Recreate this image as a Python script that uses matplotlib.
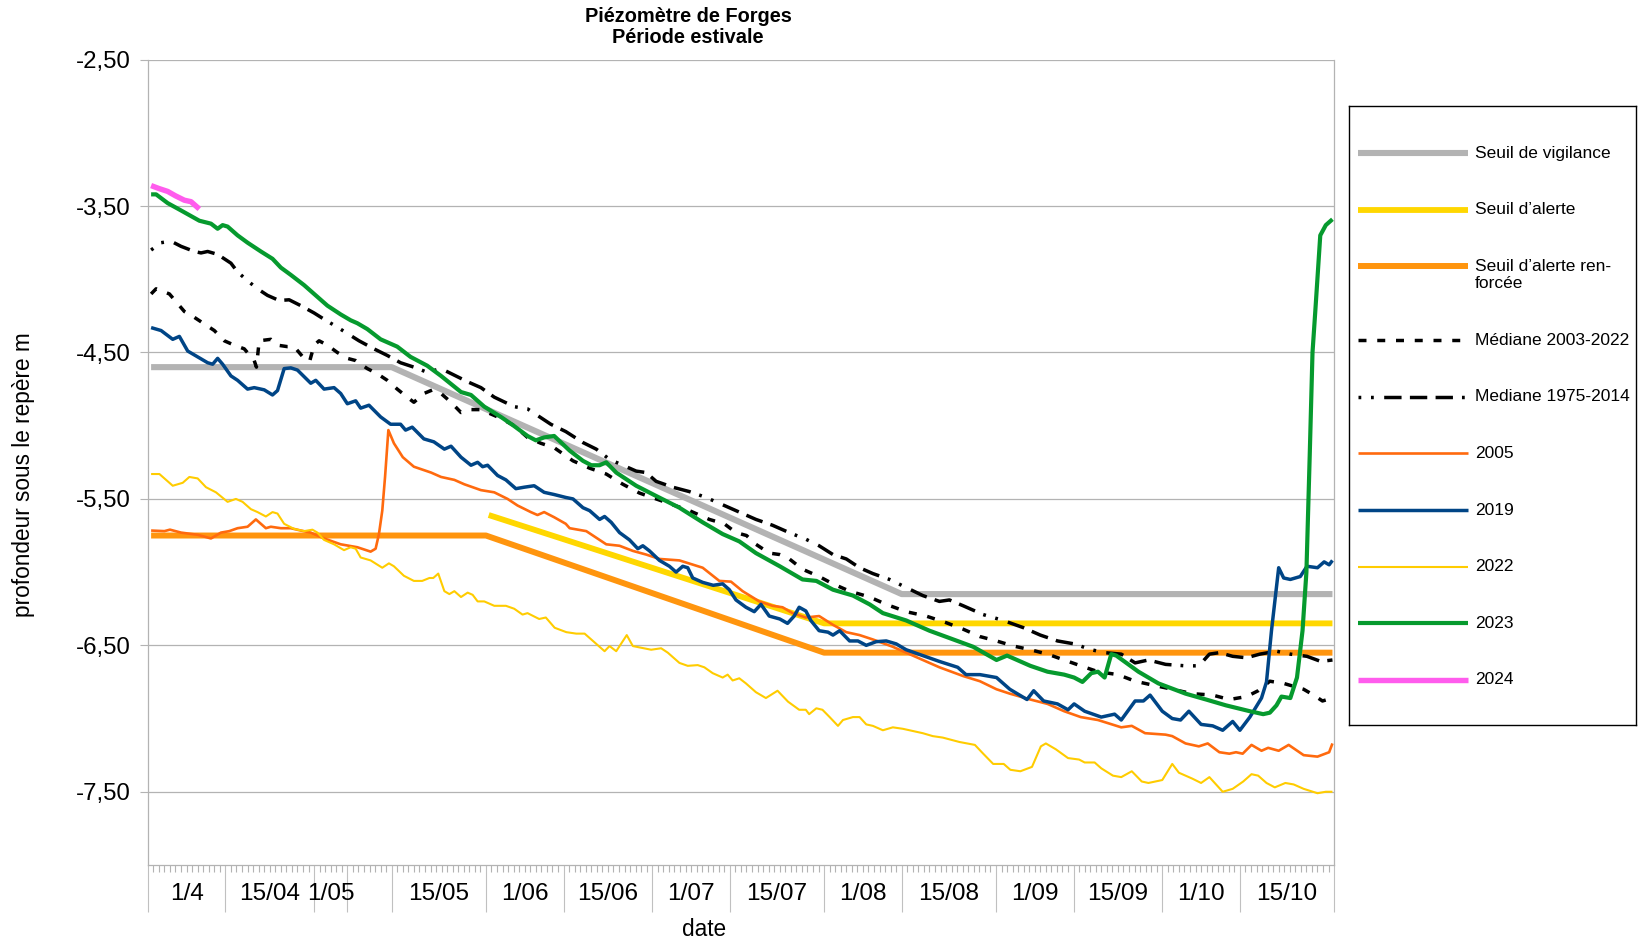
import matplotlib.pyplot as plt
from matplotlib.ticker import FuncFormatter
from matplotlib.transforms import blended_transform_factory

plt.rcParams['font.family'] = ['Liberation Sans', 'DejaVu Sans']

# x = days counted from 1 April, y = depth below the reference mark (m)
vigilance_days = [0.6, 44, 136, 213.7]
vigilance_vals = [-4.60, -4.60, -6.15, -6.15]
alerte_days = [61.5, 122, 213.7]
alerte_vals = [-5.61, -6.35, -6.35]
renforcee_days = [0.6, 61, 122, 213.7]
renforcee_vals = [-5.75, -5.75, -6.55, -6.55]

med0322_days = [0.6, 1.5, 3.9, 5.7, 6.6, 8.4, 10.8, 12, 13.8, 15.6, 17.4, 19.2, 19.6, 20.1, 22.2, 23.4,
                25.2, 26.4, 28.2, 29.2, 30, 30.9, 32.4, 34.2, 36, 37.5, 39.6, 41.4, 43.2, 45, 46.8, 48,
                49.8, 51.4, 52.9, 54.7, 56.5, 58.3, 60, 61.9, 63.7, 66.1, 68.5, 70.9, 73.3, 76.7, 79.7,
                82.7, 85.7, 88.7, 91.7, 94.7, 97.7, 101.3, 104, 106.1, 108, 109.7, 112.1, 114, 115.4,
                118.1, 121.1, 123.6, 126.6, 130.2, 133.2, 136.8, 140.4, 144, 147.1, 150.1, 153.1, 156.2,
                159.2, 162.3, 165.3, 168.3, 171.4, 175, 178.1, 181.1, 184.8, 188.4, 192.1, 195.1, 198.2,
                200.3, 202.4, 204.9, 206.7, 208.5, 210.3, 211.9, 213.7]
med0322_vals = [-4.10, -4.065, -4.10, -4.18, -4.22, -4.26, -4.32, -4.35, -4.42, -4.45, -4.475, -4.555,
                -4.60, -4.42, -4.41, -4.45, -4.46, -4.46, -4.54, -4.56, -4.45, -4.42, -4.45, -4.50, -4.54,
                -4.555, -4.61, -4.645, -4.69, -4.75, -4.805, -4.84, -4.78, -4.755, -4.78, -4.84, -4.91,
                -4.89, -4.89, -4.92, -4.95, -5.00, -5.08, -5.12, -5.15, -5.24, -5.29, -5.33, -5.40, -5.46,
                -5.50, -5.54, -5.58, -5.64, -5.67, -5.73, -5.75, -5.81, -5.87, -5.88, -5.90, -5.98, -6.03,
                -6.08, -6.13, -6.17, -6.22, -6.27, -6.30, -6.345, -6.39, -6.44, -6.47, -6.505, -6.53,
                -6.56, -6.60, -6.64, -6.68, -6.70, -6.745, -6.77, -6.80, -6.83, -6.84, -6.87, -6.85,
                -6.81, -6.745, -6.76, -6.78, -6.80, -6.84, -6.88, -6.86]

med7514_days = [0.6, 2.4, 4.2, 6, 8.4, 9.6, 10.8, 12.6, 15, 16.2, 18, 19.8, 21.6, 23.7, 25.5, 27.6, 30,
                32.1, 33.9, 36, 38.1, 40.8, 43.2, 45.6, 48, 50.4, 52.9, 55.3, 57.7, 60.1, 62.5, 66.1,
                68.5, 70.3, 72.7, 75.4, 78.5, 80.9, 83.3, 85.7, 88.1, 89.9, 91.7, 94.7, 97.7, 100.7,
                103.7, 106.7, 109.7, 112.7, 115.7, 118.7, 121.1, 123.6, 126, 128.4, 130.8, 133.8, 136.8,
                139.8, 142.8, 144.6, 147.1, 150.7, 154.3, 158, 161, 164.1, 167.1, 170.2, 172.6, 175.6,
                178.1, 180.5, 183.6, 187.2, 189.6, 191.5, 193.3, 195.7, 198.2, 200.6, 203.6, 206.1,
                209.1, 211.6, 213.7]
med7514_vals = [-3.80, -3.75, -3.74, -3.775, -3.81, -3.82, -3.81, -3.83, -3.89, -3.95, -4.01, -4.065,
                -4.11, -4.145, -4.14, -4.18, -4.23, -4.28, -4.32, -4.37, -4.42, -4.475, -4.52, -4.57,
                -4.60, -4.635, -4.61, -4.655, -4.70, -4.74, -4.805, -4.87, -4.885, -4.93, -4.99, -5.04,
                -5.115, -5.16, -5.23, -5.27, -5.31, -5.32, -5.38, -5.42, -5.45, -5.49, -5.54, -5.59,
                -5.64, -5.68, -5.73, -5.775, -5.82, -5.88, -5.91, -5.97, -6.01, -6.05, -6.105, -6.16,
                -6.20, -6.19, -6.23, -6.29, -6.33, -6.38, -6.43, -6.47, -6.49, -6.53, -6.55, -6.56,
                -6.62, -6.60, -6.63, -6.64, -6.64, -6.56, -6.55, -6.575, -6.585, -6.56, -6.54, -6.56,
                -6.575, -6.61, -6.60]

y2005_days = [0.6, 3, 4, 6, 9, 11.4, 13.2, 14.7, 16.2, 18, 19.5, 21.3, 22.2, 24, 25.8, 27.6, 29.4, 31.8,
              34.8, 37.8, 40.2, 41.1, 41.7, 42.3, 42.8, 43.4, 44.4, 46, 48, 51.1, 52.9, 55.3, 57.1, 60.1,
              62.5, 64.9, 66.7, 69.1, 70.3, 71.5, 73.3, 75.4, 76.1, 79.1, 82.7, 85.1, 87.5, 89.9, 92.3,
              95.9, 100.1, 103.1, 105.2, 107.3, 110.3, 112.7, 114.5, 116.3, 118.7, 121.1, 123.6, 126,
              128.4, 130.8, 134.4, 138.6, 142.8, 147.1, 150.1, 153.1, 155.5, 159.2, 162.3, 165.3, 168.3,
              171.4, 175.6, 177.5, 179.9, 183.6, 184.8, 187.2, 189.6, 191.2, 193.3, 195.1, 196.3, 197.5,
              199.1, 200.9, 202.1, 204, 205.8, 208.5, 211, 213.1, 213.7]
y2005_vals = [-5.716, -5.72, -5.71, -5.73, -5.745, -5.77, -5.73, -5.72, -5.70, -5.69, -5.64, -5.70, -5.69,
              -5.70, -5.70, -5.716, -5.73, -5.77, -5.81, -5.83, -5.86, -5.84, -5.74, -5.58, -5.35, -5.03,
              -5.12, -5.215, -5.28, -5.32, -5.35, -5.37, -5.40, -5.44, -5.455, -5.50, -5.545, -5.59,
              -5.61, -5.59, -5.625, -5.67, -5.70, -5.72, -5.81, -5.82, -5.855, -5.88, -5.91, -5.92,
              -5.97, -6.06, -6.065, -6.13, -6.20, -6.23, -6.24, -6.28, -6.31, -6.30, -6.36, -6.41,
              -6.43, -6.46, -6.51, -6.58, -6.65, -6.71, -6.745, -6.80, -6.83, -6.87, -6.90, -6.95,
              -6.99, -7.01, -7.06, -7.05, -7.10, -7.11, -7.12, -7.17, -7.19, -7.17, -7.23, -7.24,
              -7.23, -7.24, -7.18, -7.22, -7.20, -7.22, -7.18, -7.25, -7.26, -7.23, -7.17]

y2019_days = [0.6, 2.4, 4.5, 5.7, 7.2, 9, 10.8, 11.7, 12.6, 13.5, 15, 16.2, 18, 19.2, 21, 22.5, 23.4, 24.6,
              25.8, 27, 29.4, 30.3, 31.8, 33.6, 34.8, 36, 37.5, 38.4, 39.9, 42, 43.8, 45.6, 46.5, 47.7,
              49.8, 51.6, 53.5, 54.7, 56.5, 58.3, 59.5, 60.4, 61.3, 63.1, 64.6, 66.4, 67.9, 69.7, 71.5,
              73.3, 75.4, 76.7, 78.5, 79.7, 81.5, 82.4, 83.6, 85.1, 86.9, 88.4, 89.3, 90.5, 92.3, 94.1,
              95.3, 96.5, 97.4, 98.3, 100.1, 102, 103.7, 104.9, 106.1, 107.9, 109.4, 110.6, 112.1, 114,
              115.4, 116.6, 117.5, 118.7, 119.6, 121.1, 122.7, 123.6, 124.8, 126.6, 128.1, 129.6, 131.4,
              133.2, 135, 136.8, 139.8, 142.8, 146.1, 147.6, 150.1, 153.1, 155.5, 158.6, 159.8, 161.6,
              164.1, 166, 167.1, 169, 172, 174.4, 175.6, 178.1, 179.6, 180.8, 183, 184.8, 186.3, 187.8,
              190, 192.1, 193.9, 195.7, 197, 198.8, 200.9, 201.8, 202.7, 204, 204.9, 206.1, 207.9, 209.1,
              211, 212.2, 213.1, 213.7]
y2019_vals = [-4.33, -4.35, -4.41, -4.39, -4.49, -4.53, -4.57, -4.58, -4.54, -4.58, -4.66, -4.69, -4.75,
              -4.74, -4.755, -4.79, -4.76, -4.61, -4.605, -4.62, -4.71, -4.69, -4.75, -4.74, -4.78, -4.85,
              -4.83, -4.88, -4.86, -4.94, -4.99, -4.99, -5.03, -5.01, -5.09, -5.11, -5.16, -5.14, -5.215,
              -5.27, -5.25, -5.28, -5.27, -5.34, -5.37, -5.43, -5.42, -5.41, -5.455, -5.47, -5.49, -5.50,
              -5.56, -5.58, -5.64, -5.62, -5.66, -5.73, -5.78, -5.84, -5.82, -5.855, -5.92, -5.96, -6.00,
              -5.96, -5.97, -6.04, -6.07, -6.09, -6.08, -6.12, -6.19, -6.24, -6.27, -6.22, -6.30, -6.32,
              -6.35, -6.30, -6.24, -6.265, -6.33, -6.40, -6.41, -6.43, -6.40, -6.47, -6.47, -6.50, -6.475,
              -6.47, -6.49, -6.53, -6.57, -6.61, -6.65, -6.70, -6.70, -6.72, -6.80, -6.87, -6.81, -6.88,
              -6.90, -6.94, -6.90, -6.95, -6.99, -6.97, -7.01, -6.88, -6.88, -6.84, -6.95, -7.00, -7.01,
              -6.95, -7.04, -7.05, -7.08, -7.02, -7.08, -6.99, -6.86, -6.75, -6.40, -5.97, -6.04, -6.05,
              -6.03, -5.96, -5.97, -5.93, -5.95, -5.92]

y2022_days = [0.6, 2.1, 4.5, 6.3, 7.5, 9, 10.5, 12.3, 14.4, 15.9, 17.1, 18.6, 19.8, 21.3, 22.5, 23.4, 24.6,
              26.4, 28.2, 29.7, 30.6, 31.8, 33.6, 35.4, 36.6, 37.5, 38.4, 40.2, 42.3, 43.5, 44.4, 46.2,
              48, 49.5, 50.8, 51.5, 52.4, 53.5, 54.4, 55.3, 56.5, 57.7, 58.6, 59.5, 60.7, 62.5, 64.6,
              66.1, 67.6, 68.5, 70.6, 71.8, 73.4, 75.5, 77.3, 78.8, 80.3, 82.4, 83.3, 84.5, 86.4, 87.5,
              90.8, 92.6, 93.8, 95.9, 97.4, 99.2, 100.4, 101.9, 103.7, 104.6, 105.5, 106.7, 107.9, 109.7,
              111.5, 113.6, 115.5, 117.5, 118.7, 119.3, 120.6, 121.7, 123, 124.5, 125.4, 127.2, 128.4,
              129.6, 130.8, 132.6, 134.4, 136.2, 138, 139.8, 141.6, 143.4, 146.4, 149.2, 150.7, 152.5,
              154.4, 155.6, 157.4, 159.5, 161.1, 162, 163.8, 166, 168, 169, 170.8, 172, 174.1, 175.6,
              177.5, 179.3, 180.5, 183, 184.8, 186, 188.4, 190, 191.5, 193.9, 195.7, 197.6, 199.1, 200.3,
              201.8, 203.3, 205.2, 206.7, 208.5, 211, 212.5, 213.7]
y2022_vals = [-5.33, -5.33, -5.41, -5.39, -5.35, -5.36, -5.42, -5.455, -5.52, -5.50, -5.52, -5.57, -5.59,
              -5.62, -5.59, -5.60, -5.67, -5.705, -5.72, -5.71, -5.73, -5.78, -5.81, -5.85, -5.83, -5.84,
              -5.90, -5.92, -5.97, -5.94, -5.96, -6.025, -6.06, -6.06, -6.04, -6.04, -6.01, -6.13, -6.15,
              -6.13, -6.17, -6.14, -6.155, -6.20, -6.20, -6.23, -6.23, -6.25, -6.29, -6.28, -6.32, -6.31,
              -6.38, -6.41, -6.42, -6.42, -6.47, -6.54, -6.505, -6.54, -6.43, -6.505, -6.53, -6.52,
              -6.55, -6.62, -6.64, -6.635, -6.65, -6.69, -6.72, -6.70, -6.74, -6.725, -6.76, -6.82,
              -6.86, -6.81, -6.885, -6.94, -6.94, -6.97, -6.93, -6.94, -6.99, -7.05, -7.01, -6.99,
              -6.99, -7.04, -7.05, -7.08, -7.06, -7.07, -7.085, -7.10, -7.12, -7.13, -7.16, -7.18,
              -7.24, -7.31, -7.31, -7.35, -7.36, -7.33, -7.19, -7.17, -7.21, -7.27, -7.28, -7.30,
              -7.30, -7.34, -7.39, -7.40, -7.36, -7.43, -7.44, -7.42, -7.31, -7.37, -7.41, -7.44,
              -7.40, -7.50, -7.48, -7.43, -7.38, -7.39, -7.44, -7.47, -7.44, -7.45, -7.48, -7.51,
              -7.50, -7.50]

y2023_days = [0.6, 1.5, 3.6, 6, 9.3, 11.4, 12.6, 13.5, 14.4, 16.2, 18, 20.4, 22.5, 24, 25.8, 28.2, 30,
              32.4, 34.8, 36.6, 37.8, 39.6, 42, 45, 47.4, 50.4, 52.9, 56.5, 58.3, 60.7, 63.7, 66, 68.5,
              70, 71.5, 73.3, 76.1, 78.5, 80, 81.5, 82.7, 84.5, 88.1, 91.7, 95.9, 100.1, 103.7, 106.7,
              109.7, 114, 118.1, 120.6, 123.6, 127.2, 130.2, 132.6, 136.8, 141, 144.6, 148.9, 153.1, 155,
              159.2, 162.3, 165.3, 167.1, 168.6, 170.2, 171.4, 172.6, 173.8, 174.7, 178.7, 182.3, 187.2,
              190.9, 194.5, 198.8, 201.2, 202.4, 203.6, 204.5, 206.1, 207.3, 208.3, 209, 209.6, 210.1,
              210.6, 211.5, 212.5, 213.7]
y2023_vals = [-3.42, -3.42, -3.48, -3.53, -3.60, -3.62, -3.655, -3.63, -3.64, -3.70, -3.75, -3.81, -3.86,
              -3.92, -3.97, -4.04, -4.10, -4.18, -4.24, -4.28, -4.30, -4.34, -4.41, -4.46, -4.53, -4.59,
              -4.66, -4.77, -4.79, -4.87, -4.94, -5.00, -5.07, -5.10, -5.08, -5.07, -5.17, -5.24, -5.27,
              -5.27, -5.25, -5.32, -5.41, -5.48, -5.56, -5.66, -5.74, -5.79, -5.87, -5.96, -6.05, -6.06,
              -6.12, -6.16, -6.22, -6.28, -6.33, -6.40, -6.45, -6.51, -6.60, -6.57, -6.64, -6.68, -6.70,
              -6.72, -6.75, -6.69, -6.68, -6.72, -6.56, -6.57, -6.68, -6.76, -6.83, -6.87, -6.91, -6.95,
              -6.97, -6.96, -6.91, -6.85, -6.86, -6.72, -6.40, -6.00, -5.20, -4.50, -4.22, -3.70, -3.63,
              -3.59]

y2024_days = [0.6, 2, 3.6, 5, 6.6, 7.8, 9.3]
y2024_vals = [-3.36, -3.38, -3.40, -3.43, -3.46, -3.47, -3.52]

# x axis: separators (days from 1 April) and the label shown in each interval
sep_days = [0, 14, 30, 36, 44, 61, 75, 91, 105, 122, 136, 153, 167, 183, 197, 214]
sep_labels = ['1/4', '15/04', '1/05', '', '15/05', '1/06', '15/06', '1/07', '15/07', '1/08',
              '15/08', '1/09', '15/09', '1/10', '15/10']
y_ticks = [-7.5, -6.5, -5.5, -4.5, -3.5, -2.5]

series = [
    (vigilance_days, vigilance_vals, 'Seuil de vigilance', '#b3b3b3', 4.4, '-'),
    (alerte_days, alerte_vals, 'Seuil d\u2019alerte', '#ffd700', 4.2, '-'),
    (renforcee_days, renforcee_vals, 'Seuil d\u2019alerte ren-\nforcée', '#ff950e', 4.3, '-'),
    (med0322_days, med0322_vals, 'Médiane 2003-2022', 'black', 2.5, (0, (2.3, 3.1))),
    (med7514_days, med7514_vals, 'Mediane 1975-2014', 'black', 2.5,
     (0, (0.8, 2.8, 0.8, 3.0, 5.0, 2.4, 5.0, 2.4, 5.0, 2.6))),
    (y2005_days, y2005_vals, '2005', '#ff6a0e', 1.9, '-'),
    (y2019_days, y2019_vals, '2019', '#004586', 2.5, '-'),
    (y2022_days, y2022_vals, '2022', '#ffcc00', 1.5, '-'),
    (y2023_days, y2023_vals, '2023', '#069a2e', 3.0, '-'),
    (y2024_days, y2024_vals, '2024', '#ff5ced', 3.9, '-'),
]

fig = plt.figure(figsize=(16.42, 9.41), dpi=100)
ax = fig.add_axes([0.0900, 0.0808, 0.7225, 0.8558])

for d, v, lab, col, lw, ls in series:
    ax.plot(d, v, color=col, lw=lw, linestyle=ls, solid_capstyle='butt', dash_capstyle='butt')

ax.set_xlim(0, 214)
ax.set_ylim(-8.0, -2.5)
ax.set_yticks(y_ticks)
ax.yaxis.set_major_formatter(FuncFormatter(lambda v, p: f'{v:.2f}'.replace('.', ',')))
ax.grid(axis='y', color='#b3b3b3', lw=0.9)
ax.set_axisbelow(True)

ax.set_xticks(sep_days)
ax.set_xticklabels([])
ax.set_xticks(range(0, 215), minor=True)
ax.tick_params(axis='x', which='major', length=34, width=0.8, color='#c0c0c0')
ax.tick_params(axis='x', which='minor', length=5, width=0.8, color='#b3b3b3')
ax.tick_params(axis='y', which='major', length=6, width=0.8, color='#b3b3b3', pad=6,
               labelsize=17.3)

ax.spines['top'].set_visible(False)
for s in ['left', 'bottom', 'right']:
    ax.spines[s].set_color('#b3b3b3')
    ax.spines[s].set_linewidth(0.9)

trans = blended_transform_factory(ax.transData, ax.transAxes)
for a, b, lab in zip(sep_days[:-1], sep_days[1:], sep_labels):
    ax.text((a + b) / 2, -0.036, lab, transform=trans, ha='center', va='center', fontsize=17.6)

fig.text(0.4287, 0.0117, 'date', ha='center', va='center', fontsize=16.3)
fig.text(0.0146, 0.496, 'profondeur sous le repère m', rotation=90, ha='center', va='center',
         fontsize=16.3)
fig.text(0.419, 0.9821, 'Piézomètre de Forges', ha='center', va='center',
         fontsize=14.4, fontweight='bold')
fig.text(0.419, 0.9600, 'Période estivale', ha='center', va='center',
         fontsize=14.4, fontweight='bold')

# legend box drawn in its own axes
lax = fig.add_axes([0.8216, 0.2295, 0.1748, 0.6578])
lax.set_xlim(0, 1)
lax.set_ylim(0, 1)
lax.set_xticks([])
lax.set_yticks([])
for s in lax.spines.values():
    s.set_color('black')
    s.set_linewidth(1)
y = 0.924
line_step = 0.0288
for d, v, lab, col, lw, ls in series:
    lax.plot([0.031, 0.415], [y, y], color=col, lw=lw, linestyle=ls,
             solid_capstyle='butt', dash_capstyle='butt')
    lines = lab.split('\n')
    for k, part in enumerate(lines):
        lax.text(0.439, y - k * line_step, part, ha='left', va='center', fontsize=12.5)
    y -= 0.0913 + line_step * (len(lines) - 1)

fig.savefig('out.png', dpi=100)
